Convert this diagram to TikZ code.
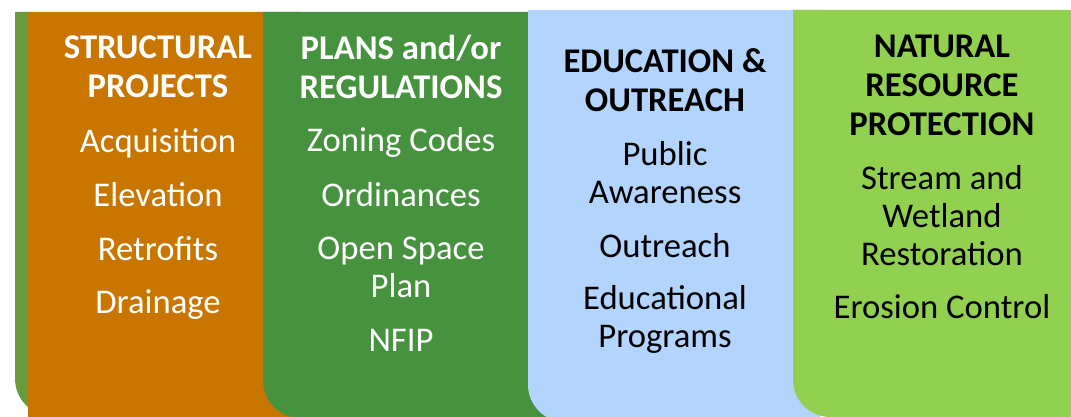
\documentclass[tikz,border=0pt]{standalone}
\usepackage{fontspec}
\setmainfont{Carlito}
\usepackage{xcolor}
\usepackage{tikz}

\definecolor{olivep}{HTML}{6B9A3C}
\definecolor{orangep}{HTML}{C97600}
\definecolor{greenp}{HTML}{46923E}
\definecolor{bluep}{HTML}{B3D4FC}
\definecolor{limep}{HTML}{92D050}

\begin{document}
\begin{tikzpicture}[
  x=0.75pt, y=-0.75pt,
  txt/.style ={inner sep=0pt, align=center, anchor=center,
               font=\fontsize{26}{28.5}\selectfont},
  head/.style={txt, font=\fontsize{26}{29.3}\selectfont\bfseries},
  wtxt/.style ={txt, text=white},
  whead/.style={head, text=white},
  btxt/.style ={txt, text=black},
  bhead/.style={head, text=black},
]
\useasboundingbox (0,0) rectangle (1071,417);
% ---------------- PANELS (back to front, each tucked under the next) ----------------
\fill[olivep]  (300,12) -- (15,12)  [rounded corners=28] -- (15,416)  [sharp corners] -- (300,416) -- cycle;
\fill[orangep] (300,12) -- (28,12)  -- (28,417) -- (300,417) -- cycle;
\fill[greenp]  (560,12) -- (263,12) [rounded corners=28] -- (263,418) [sharp corners] -- (560,418) -- cycle;
\fill[bluep]   (820,10) -- (528,10) [rounded corners=28] -- (528,422) [sharp corners] -- (820,422) -- cycle;
\fill[limep]   (1071,10) -- (793,10) [rounded corners=28] -- (793,417) [sharp corners] -- (1071,417) -- cycle;

% ---------------- STRUCTURAL PROJECTS ----------------
\node[whead] (sphead) at (158,67)  {STRUCTURAL\\PROJECTS};
\node[wtxt]  (acq)    at (158,143) {Acquisition};
\node[wtxt]  (elev)   at (158,195) {Elevation};
\node[wtxt]  (retro)  at (158,249) {Retrofits};
\node[wtxt]  (drain)  at (158,305) {Drainage};
% ---------------- PLANS and/or REGULATIONS ----------------
\node[whead] (prhead) at (401,67)  {PLANS and/or\\REGULATIONS};
\node[wtxt]  (zoning) at (401,142) {Zoning Codes};
\node[wtxt]  (ordin)  at (401,195) {Ordinances};
\node[wtxt]  (space)  at (401,267) {Open Space\\Plan};
\node[wtxt]  (nfip)   at (401,340) {NFIP};
% ---------------- EDUCATION & OUTREACH ----------------
\node[bhead] (eohead) at (665,80)  {EDUCATION \&\\OUTREACH};
\node[btxt]  (public) at (665,173) {Public\\Awareness};
\node[btxt]  (outr)   at (665,246) {Outreach};
\node[btxt]  (eduprg) at (665,319) {Educational\\Programs};
% ---------------- NATURAL RESOURCE PROTECTION ----------------
\node[bhead] (nrhead) at (942,85)  {NATURAL\\RESOURCE\\PROTECTION};
\node[btxt]  (stream) at (942,216) {Stream and\\Wetland\\Restoration};
\node[btxt]  (erosn)  at (942,307) {Erosion Control};
\end{tikzpicture}
\end{document}
